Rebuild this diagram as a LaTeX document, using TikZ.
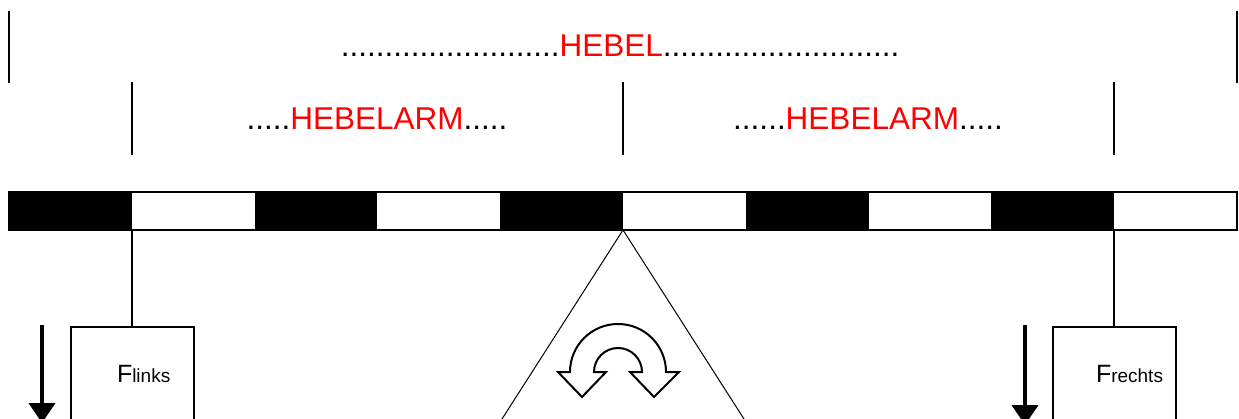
\documentclass[tikz,border=0pt]{standalone}
\usepackage{fontspec}
\setmainfont{Liberation Sans}
\usetikzlibrary{arrows.meta}
\definecolor{hebelred}{RGB}{255,0,0}

\begin{document}
\begin{tikzpicture}[x=1pt,y=-1pt,line width=2pt,
    box/.style={draw,minimum width=123pt,minimum height=140pt,inner sep=0pt,anchor=north},
    lbl/.style={inner sep=0pt,anchor=base,font=\fontsize{31.5}{31.5}\selectfont},
    force/.style={line width=4pt,-{Triangle[width=26pt,length=20pt]}}]
  \useasboundingbox (0,0) rectangle (1239,419);
  \clip (0,0) rectangle (1239,419);
  \coordinate (lpin) at (132,230);
  \coordinate (pivot) at (623,230);
  \coordinate (rpin) at (1114,230);
  \draw (9,11) -- (9,83);
  \draw (1237,11) -- (1237,83);
  \foreach \x in {132,623,1114}
    \draw (\x,82) -- (\x,155);
  \node[lbl] (hebel) at (620,57) {.........................\textcolor{hebelred}{HEBEL}...........................};
  \node[lbl] (larm) at (377,130) {.....\textcolor{hebelred}{HEBELARM}.....};
  \node[lbl] (rarm) at (868,130) {......\textcolor{hebelred}{HEBELARM}.....};
  \foreach \x in {9,254.6,500.2,745.8,991.4}
    \fill (\x,192) rectangle ++(122.8,38);
  \draw (9,192) rectangle (1237,230);
  \draw[line width=1pt] (pivot) -- ++(-121,189);
  \draw[line width=1pt] (pivot) -- ++(121,189);
  \draw (594,372) arc[start angle=180,end angle=360,radius=24]
    -- (630,372) -- (654,397) -- (679,372) -- (666,372)
    arc[start angle=0,end angle=-180,radius=48]
    -- (558,372) -- (582,397) -- (606,372) -- cycle;
  \node[box] (lbox) at (132,326) {};
  \node[box] (rbox) at (1114,326) {};
  \draw (lpin) -- (lbox.north);
  \draw (rpin) -- (rbox.north);
  \node[anchor=base west,inner sep=0pt] (flinks) at (116,382)
    {\fontsize{25}{25}\selectfont F\fontsize{19}{19}\selectfont links};
  \node[anchor=base west,inner sep=0pt] (frechts) at (1095,382)
    {\fontsize{25}{25}\selectfont F\fontsize{19}{19}\selectfont rechts};
  \coordinate (ltop) at (42,325);
  \coordinate (ltip) at (42,423);
  \coordinate (rtop) at (1025,325);
  \coordinate (rtip) at (1025,425);
  \draw[force] (ltop) -- (ltip);
  \draw[force] (rtop) -- (rtip);
\end{tikzpicture}
\end{document}
